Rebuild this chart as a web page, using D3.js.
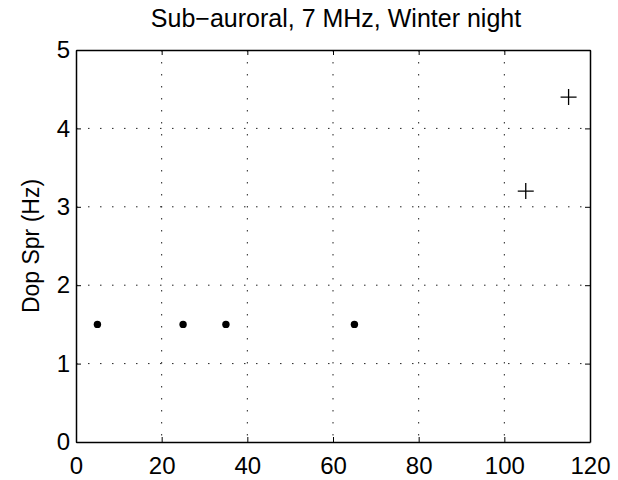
<!DOCTYPE html>
<html>
<head>
<script src="https://d3js.org/d3.v7.min.js"></script>
<style>
  body { margin: 0; background: #fff; }
  text { font-family: Helvetica, "Liberation Sans", Arial, sans-serif; fill: #000; }
</style>
</head>
<body>
<div id="chart"></div>
<script>
// data
const dotX = [5, 25, 35, 65];
const dotY = [1.5, 1.5, 1.5, 1.5];
const plusX = [105, 115];
const plusY = [3.2, 4.4];
const xTicks = [0, 20, 40, 60, 80, 100, 120];
const yTicks = [0, 1, 2, 3, 4, 5];

const W = 618, H = 480;
const margin = { top: 50, right: 28, bottom: 38, left: 76 };
const w = W - margin.left - margin.right;
const h = H - margin.top - margin.bottom;

const svg = d3.select("#chart").append("svg")
    .attr("width", W).attr("height", H);
const g = svg.append("g")
    .attr("transform", `translate(${margin.left},${margin.top})`);

const x = d3.scaleLinear().domain([0, 120]).range([0, w]);
const y = d3.scaleLinear().domain([0, 5]).range([h, 0]);

// dotted grid (sparse dots, like matlab ':' grid)
g.selectAll(".gx").data(xTicks.slice(1, -1)).enter().append("line")
    .attr("x1", d => x(d)).attr("x2", d => x(d))
    .attr("y1", 0).attr("y2", h)
    .attr("stroke", "#222").attr("stroke-width", 1)
    .attr("stroke-dasharray", "1.5,10.5");
g.selectAll(".gy").data(yTicks.slice(1, -1)).enter().append("line")
    .attr("x1", 0).attr("x2", w)
    .attr("y1", d => y(d)).attr("y2", d => y(d))
    .attr("stroke", "#222").attr("stroke-width", 1)
    .attr("stroke-dasharray", "1.5,10.5");

// axes, ticks point inward
const xAx = g.append("g").attr("transform", `translate(0,${h})`)
    .call(d3.axisBottom(x).tickValues(xTicks).tickSizeInner(-5).tickSizeOuter(0).tickPadding(15).tickFormat(d3.format("d")));
const yAx = g.append("g")
    .call(d3.axisLeft(y).tickValues(yTicks).tickSizeInner(-5).tickSizeOuter(0).tickPadding(6).tickFormat(d3.format("d")));
g.append("g")
    .call(d3.axisTop(x).tickValues(xTicks).tickSizeInner(-5).tickSizeOuter(0).tickFormat(""));
g.append("g").attr("transform", `translate(${w},0)`)
    .call(d3.axisRight(y).tickValues(yTicks).tickSizeInner(-5).tickSizeOuter(0).tickFormat(""));

g.selectAll(".domain").attr("stroke", "#000").attr("stroke-width", 1.5);
g.selectAll(".tick line").attr("stroke", "#000").attr("stroke-width", 1);
g.selectAll("g").attr("font-size", null).attr("font-family", null);
xAx.selectAll("text").style("font-size", "24px").attr("dy", "0.71em");
yAx.selectAll("text").style("font-size", "24px");

// markers
g.selectAll(".dot").data(dotX).enter().append("circle")
    .attr("cx", d => x(d)).attr("cy", (d, i) => y(dotY[i]))
    .attr("r", 3.7).attr("fill", "#000");

g.selectAll(".plus").data(plusX).enter().append("path")
    .attr("transform", (d, i) => `translate(${x(d)},${y(plusY[i])})`)
    .attr("d", "M-8,0H8M0,-8V8")
    .attr("stroke", "#000").attr("stroke-width", 1.3).attr("fill", "none");

// labels
svg.append("text")
    .attr("x", margin.left + w / 2 + 3).attr("y", 27)
    .attr("text-anchor", "middle")
    .style("font-size", "25px")
    .text("Sub\u2212auroral, 7 MHz, Winter night");

svg.append("text")
    .attr("transform", `translate(39,${margin.top + h / 2}) rotate(-90)`)
    .attr("text-anchor", "middle")
    .style("font-size", "23px")
    .text("Dop Spr (Hz)");
</script>
</body>
</html>
